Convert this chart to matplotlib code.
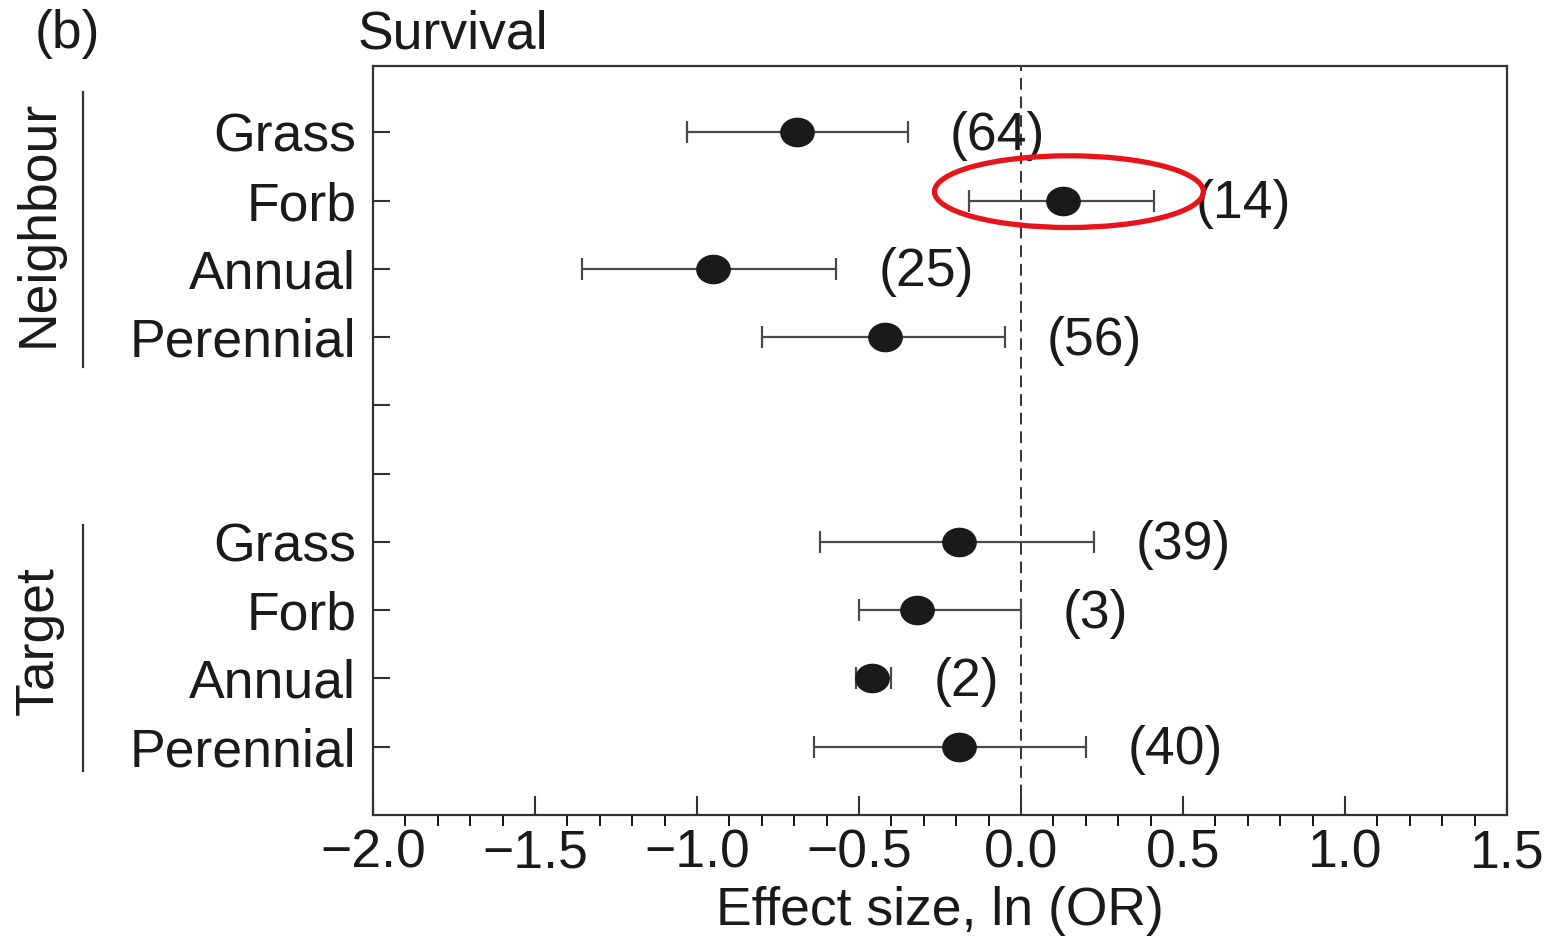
import numpy as np
import matplotlib
matplotlib.use("Agg")
import matplotlib.pyplot as plt
from matplotlib.path import Path
from matplotlib.patches import Ellipse
from matplotlib.lines import Line2D
import matplotlib.transforms as mtransforms

plt.rcParams["font.family"] = ["Liberation Sans", "DejaVu Sans"]

# dados (ln OR e IC 95%)
categories = ["Grass", "Forb", "Annual", "Perennial", "", "",
              "Grass", "Forb", "Annual", "Perennial"]
groups = ["Neighbour", "Target"]
rows = [1, 2, 3, 4, 7, 8, 9, 10]
means = [-0.69, 0.13, -0.95, -0.42, -0.19, -0.32, -0.46, -0.19]
ci_low = [-1.03, -0.16, -1.355, -0.80, -0.62, -0.50, -0.51, -0.64]
ci_high = [-0.35, 0.41, -0.57, -0.05, 0.225, 0.0, -0.40, 0.20]
n_studies = [64, 14, 25, 56, 39, 3, 2, 40]
xticks = [-2.0, -1.5, -1.0, -0.5, 0.0, 0.5, 1.0, 1.5]

FS = 38.5

fig = plt.figure(figsize=(15.51, 9.39), dpi=100)
ax = fig.add_axes([0.2405, 0.132, 0.9716 - 0.2405, 0.9297 - 0.132])

means = np.array(means)
ci_low = np.array(ci_low)
ci_high = np.array(ci_high)
xerr = np.vstack([means - ci_low, ci_high - means])

# marcador elíptico (a figura original está um pouco esticada na horizontal)
circ = Path.unit_circle()
oval = Path(circ.vertices * np.array([1.18, 1.0]), circ.codes)

ax.errorbar(means, rows, xerr=xerr, fmt="none", ecolor="#4a4a4a",
            elinewidth=1.6, capsize=8, capthick=1.6, zorder=2)
ax.plot(means, rows, linestyle="none", marker=oval, markersize=24,
        color="#1a1a1a", zorder=3)

ax.axvline(0, color="#222222", lw=1.3, dashes=(6.5, 3.8), zorder=1)

for r, hi, n in zip(rows, ci_high, n_studies):
    ax.text(hi + 0.13, r + 0.05, f"({n})", fontsize=FS, ha="left",
            va="center", color="#1a1a1a")

# destaque em vermelho
ell = Ellipse((0.148, 1.87), 0.83, 1.05, fill=False, edgecolor="#e8141c",
              lw=3.8, zorder=4)
ax.add_patch(ell)

ax.set_xlim(-2.0, 1.5)
ax.set_ylim(11.0, 0.03)
ax.set_xticks(xticks)
ax.set_xticklabels([f"{t:.1f}".replace("-", "\u2212") for t in xticks])
ax.set_xticks(np.arange(-2.0, 1.51, 0.1), minor=True)
ax.set_yticks(range(1, 11))
ax.set_yticklabels(categories)
ax.tick_params(axis="both", labelsize=FS, direction="in", colors="#333333",
               labelcolor="#1a1a1a", width=1.5)
ax.tick_params(axis="x", which="major", length=14, pad=10)
ax.tick_params(axis="x", which="minor", length=8, width=1.3)
ax.tick_params(axis="y", length=12, pad=12)
for s in ax.spines.values():
    s.set_linewidth(1.6)
    s.set_color("#333333")

ax.set_xlabel("Effect size, ln (OR)", fontsize=FS, labelpad=5, color="#1a1a1a")

fig.text(0.0226, 0.9485, "(b)", fontsize=FS, ha="left", va="baseline",
         color="#1a1a1a")
fig.text(0.2308, 0.9485, "Survival", fontsize=FS, ha="left", va="baseline",
         color="#1a1a1a")

# rótulos dos grupos com barra vertical
trans = mtransforms.blended_transform_factory(ax.transAxes, ax.transData)
group_spans = [(0.415, 4.44), (6.75, 10.35)]
for name, (y0, y1) in zip(groups, group_spans):
    ax.add_line(Line2D([-0.2557, -0.2557], [y0, y1], transform=trans,
                       color="#333333", lw=1.6, clip_on=False))
    ax.text(-0.295, (y0 + y1) / 2 - 0.1, name, transform=trans, rotation=90,
            fontsize=FS, ha="center", va="center", color="#1a1a1a")

fig.savefig("out.png", dpi=100)
